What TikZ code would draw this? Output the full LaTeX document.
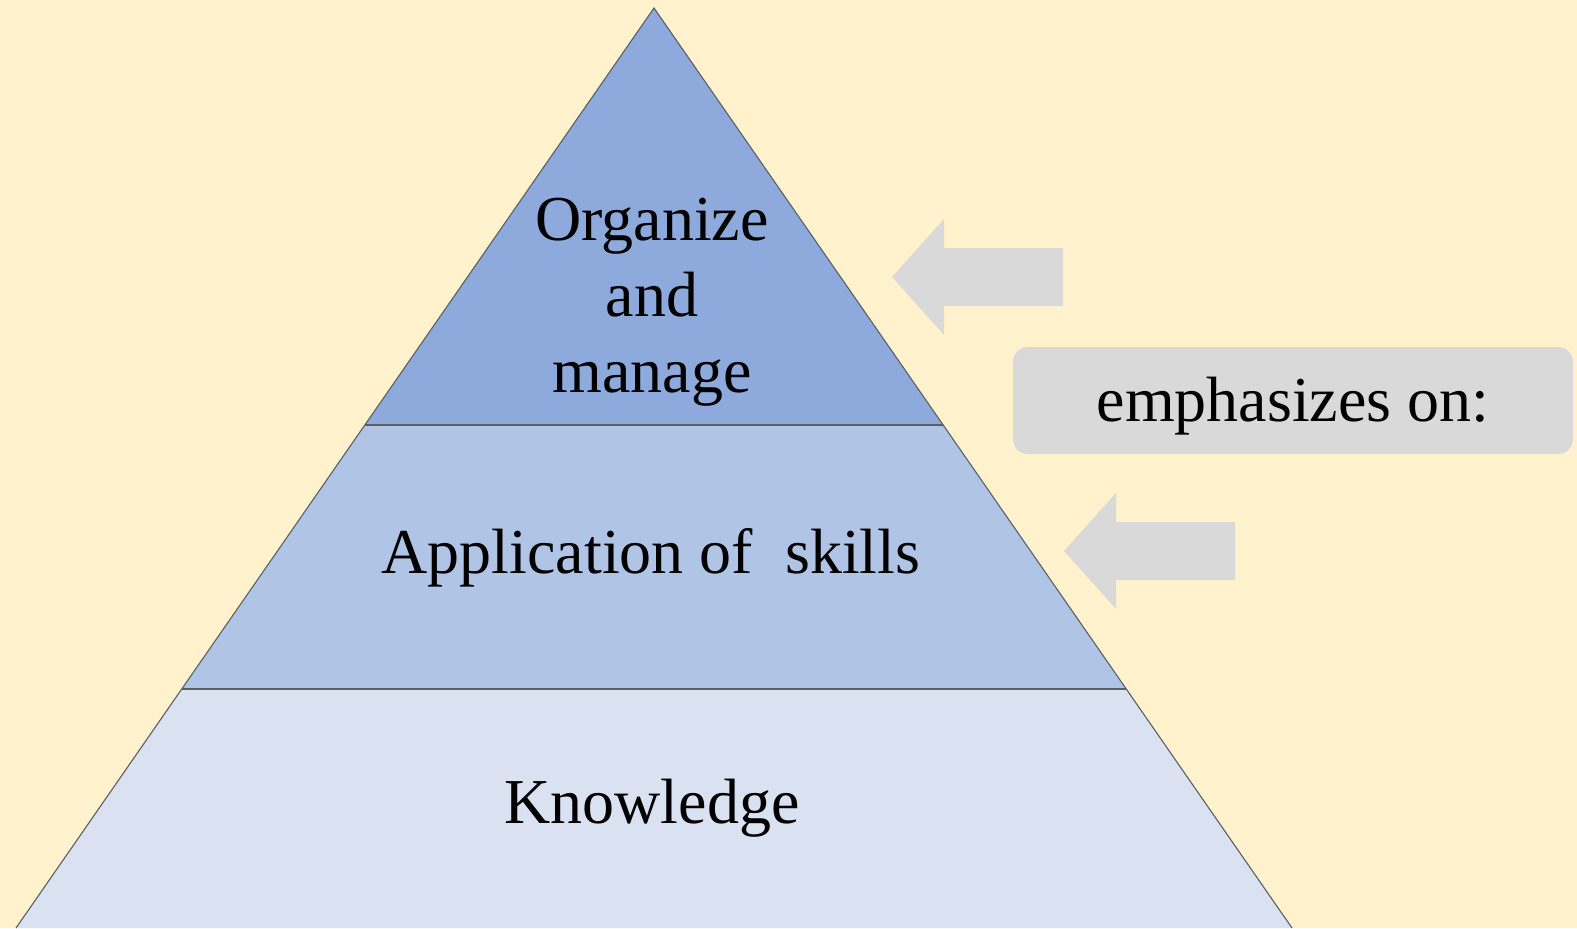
\documentclass[tikz,border=0pt]{standalone}
\usepackage{fontspec}
\setmainfont{Liberation Serif}
\definecolor{bgyellow}{HTML}{FFF2CC}
\definecolor{topblue}{HTML}{8EA9DB}
\definecolor{midblue}{HTML}{B0C4E6}
\definecolor{lowblue}{HTML}{DAE1F1}
\definecolor{edgegray}{HTML}{5A5F66}
\definecolor{boxgray}{HTML}{D9D9D9}
\begin{document}
\begin{tikzpicture}[x=1pt,y=-1pt]
    \tikzstyle{edge} = [draw = edgegray, line width = 1.1pt]
    \tikzstyle{label} = [font = \fontsize{64}{76}\selectfont, align = center, anchor = base]
    \tikzstyle{block} = [fill = boxgray]
    \tikzstyle{tag} = [fill = boxgray, rounded corners = 15pt, minimum width = 560pt, minimum height = 107pt, font = \fontsize{64}{76}\selectfont, text height = 50pt, text depth = 9pt]
    \fill[bgyellow] (0,0) rectangle (1577,928);
    \coordinate (apex) at (654,8);
    \coordinate (L1) at (365,425);
    \coordinate (R1) at (943,425);
    \coordinate (L2) at (182,689);
    \coordinate (R2) at (1126,689);
    \coordinate (L3) at (16,928);
    \coordinate (R3) at (1292,928);
    \fill[topblue] (apex) -- (L1) -- (R1) -- cycle;
    \fill[midblue] (L1) -- (L2) -- (R2) -- (R1) -- cycle;
    \fill[lowblue] (L2) -- (L3) -- (R3) -- (R2) -- cycle;
    \draw[edge] (L3) -- (apex) -- (R3);
    \draw[edge] (L1) -- (R1);
    \draw[edge] (L2) -- (R2);
    \node[label](org) at (652,392){Organize\\and\\manage};
    \node[label](app) at (651,573){Application of\ \ skills};
    \node[label](know) at (652,823){Knowledge};
    % block arrows pointing at the pyramid
    \foreach \tx/\ty in {892/277, 1064/551}
        \fill[block] (\tx,\ty) -- ++(52,-58) -- ++(0,29) -- ++(119,0) -- ++(0,58) -- ++(-119,0) -- ++(0,29) -- cycle;
    \node[tag](emph) at (1293,400.5){emphasizes on:};
\end{tikzpicture}
\end{document}
